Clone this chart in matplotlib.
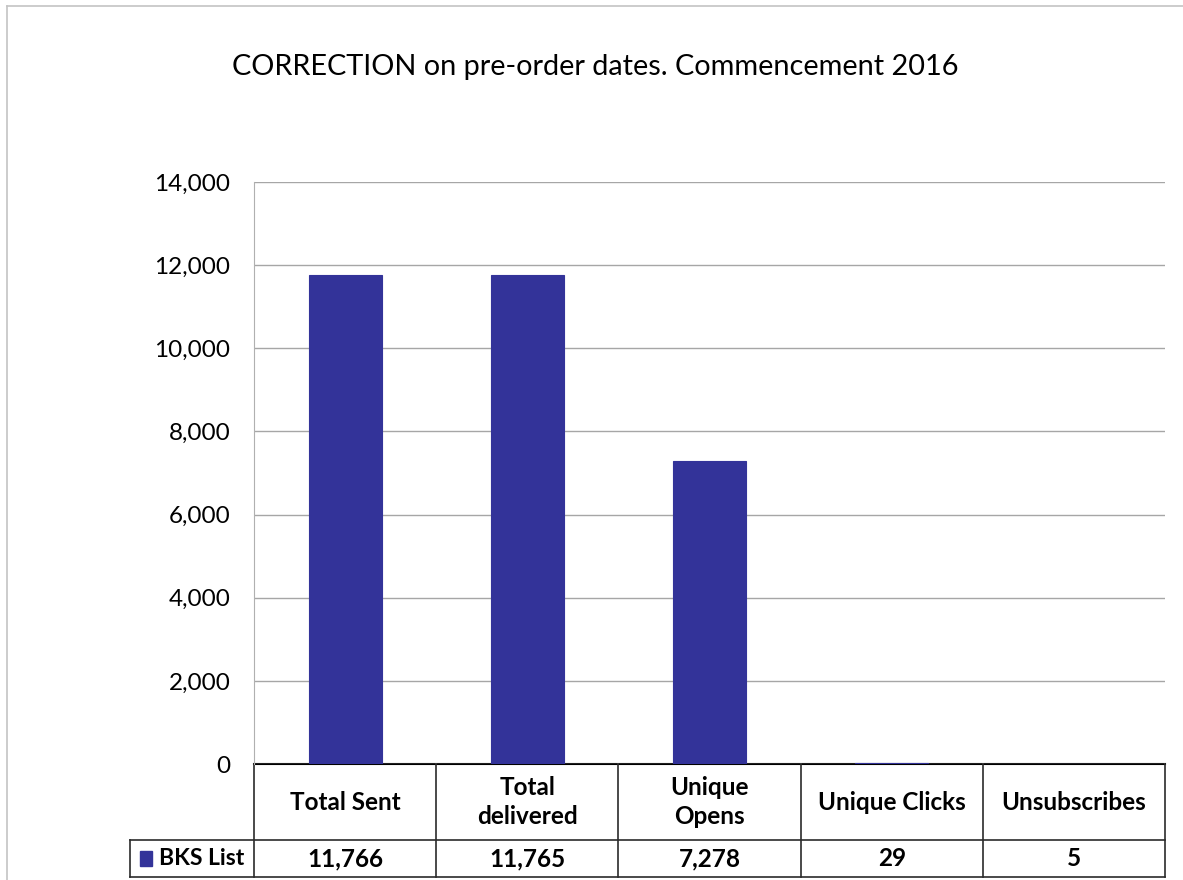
import matplotlib.pyplot as plt
from matplotlib.lines import Line2D
from matplotlib.patches import Rectangle

categories = ["Total Sent", "Total\ndelivered", "Unique\nOpens", "Unique Clicks", "Unsubscribes"]
values = [11766, 11765, 7278, 29, 5]
series_name = "BKS List"
title = "CORRECTION on pre-order dates. Commencement 2016"
yticks = [0, 2000, 4000, 6000, 8000, 10000, 12000, 14000]

bar_color = "#333399"
plt.rcParams["font.family"] = ["Lato", "DejaVu Sans"]

W, H = 1183, 880
fig = plt.figure(figsize=(W / 100, H / 100), dpi=100)

def fx(px):
    return px / W

def fy(py):
    return 1 - py / H

# chart outer border (partly cut off)
fig.add_artist(Line2D([fx(7), fx(7)], [fy(6), 0], color="#c4c4c4", lw=1.2))
fig.add_artist(Line2D([fx(7), 1], [fy(6), fy(6)], color="#c4c4c4", lw=1.2))

fig.text(fx(595), fy(67), title, ha="center", va="center", fontsize=20.8)

# plot area
left, right, top, bottom = 254, 1165, 182, 764
ax = fig.add_axes([fx(left), fy(bottom), fx(right - left), fy(top) - fy(bottom)])
x = range(len(values))
ax.bar(x, values, width=0.4, color=bar_color, edgecolor=bar_color, lw=0.8, zorder=3)
ax.set_xlim(-0.5, len(values) - 0.5)
ax.set_ylim(0, 14000)
ax.set_yticks(yticks)
ax.set_yticklabels([f"{v:,}" for v in yticks], fontsize=17.5)
ax.tick_params(axis="y", length=0, pad=17)
ax.set_xticks([])
ax.grid(axis="y", color="#a6a6a6", lw=1, zorder=0)
for s in ["top", "right", "bottom"]:
    ax.spines[s].set_visible(False)
ax.spines["left"].set_color("#b0b0b0")

# data table below the plot area
tleft, tbottom, hrow = 130, 877, 840
tax = fig.add_axes([fx(tleft), fy(tbottom), fx(right - tleft), fy(bottom) - fy(tbottom)])
col_w = (right - left) / len(values)
label_w = (left - tleft) / col_w
tax.set_xlim(-0.5 - label_w, len(values) - 0.5)
tax.set_ylim(0, 2)
tax.axis("off")
hfrac = (tbottom - hrow) / (tbottom - bottom) * 2  # y of header/data split
lc = "#2b2b2b"
tax.plot([-0.5, len(values) - 0.5], [2, 2], color="black", lw=1.5, clip_on=False)
tax.plot([-0.5 - label_w, len(values) - 0.5], [hfrac, hfrac], color=lc, lw=1.2, clip_on=False)
tax.plot([-0.5 - label_w, len(values) - 0.5], [0, 0], color=lc, lw=1.2, clip_on=False)
tax.plot([-0.5 - label_w, -0.5 - label_w], [0, hfrac], color=lc, lw=1.2, clip_on=False)
for i in range(len(values) + 1):
    tax.plot([i - 0.5, i - 0.5], [0, 2], color=lc, lw=1.2, clip_on=False)
for i, (c, v) in enumerate(zip(categories, values)):
    tax.text(i, (2 + hfrac) / 2, c, ha="center", va="center", fontsize=17.5,
             fontweight="bold", linespacing=1.35)
    tax.text(i, hfrac / 2, f"{v:,}", ha="center", va="center", fontsize=17.5,
             fontweight="bold")
tax.add_patch(Rectangle((-0.5 - label_w + 0.055, hfrac / 2 - 0.13), 0.066, 0.26,
                        color=bar_color, transform=tax.transData, clip_on=False))
tax.text(-0.5 - label_w + 0.16, hfrac / 2, series_name, ha="left", va="center",
         fontsize=16.5, fontweight="bold")

# keep the tiny bars visible above the table's top border
ax.set_zorder(tax.get_zorder() + 1)
ax.patch.set_visible(False)

fig.savefig("out.png", dpi=100)
